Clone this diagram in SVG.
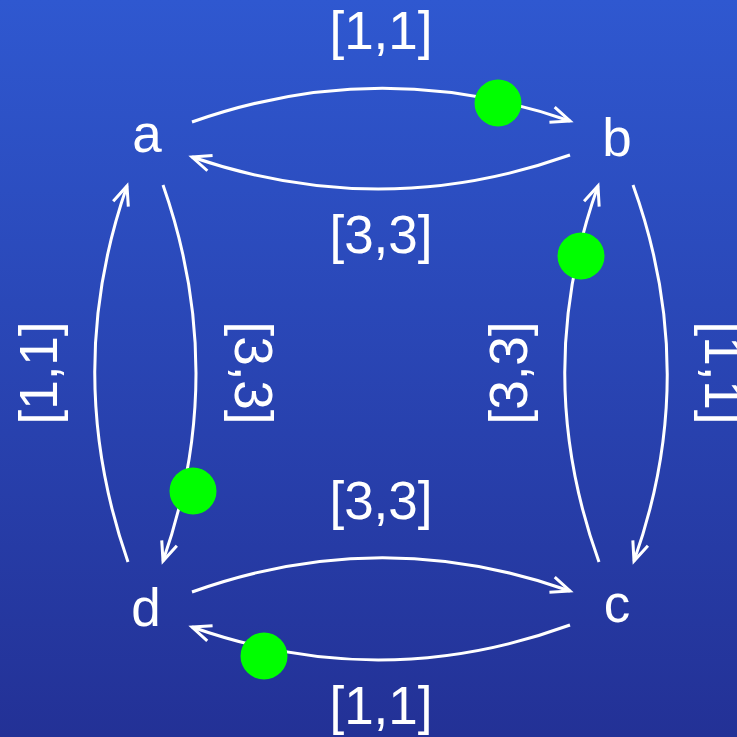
<svg xmlns="http://www.w3.org/2000/svg" width="737" height="737" viewBox="0 0 737 737">
<defs>
<linearGradient id="bg" x1="0" y1="0" x2="0" y2="1">
<stop offset="0" stop-color="#2F58D0"/>
<stop offset="1" stop-color="#233196"/>
</linearGradient>
<marker id="arr" markerUnits="userSpaceOnUse" viewBox="-22 -12 26 24" markerWidth="26" markerHeight="24" refX="0" refY="0" orient="auto" overflow="visible">
<path d="M-19,-8 L0,0 L-19,8" fill="none" stroke="#fff" stroke-width="3" stroke-linejoin="miter"/>
</marker>
<style>
.edge{fill:none;stroke:#fff;stroke-width:3;marker-end:url(#arr)}
.node{font-family:"Liberation Sans",Arial,sans-serif;font-size:53px;fill:#fff;text-anchor:middle}
.lbl{font-family:"Liberation Sans",Arial,sans-serif;font-size:53px;fill:#fff;text-anchor:middle}
.tok{fill:#00FF00}
</style>
</defs>
<rect width="737" height="737" fill="url(#bg)"/>
<g id="connectors">
<path class="edge" d="M192,122 Q381,55 570,121"/>
<path class="edge" d="M570,155 Q381,222 192,157"/>
<path class="edge" d="M128,562 Q62,373 127,186"/>
<path class="edge" d="M163,185 Q229,373 163,561"/>
<path class="edge" d="M633,185 Q701,373 634,561"/>
<path class="edge" d="M599,562 Q531,374 598,186"/>
<path class="edge" d="M192,592 Q381,524 570,591"/>
<path class="edge" d="M570,625 Q381,694 192,627"/>
</g>
<g id="labels">
<text class="lbl" x="381" y="48.6">[1,1]</text>
<text class="lbl" x="381" y="252.6">[3,3]</text>
<text class="lbl" x="381" y="518.6">[3,3]</text>
<text class="lbl" x="381" y="723.6">[1,1]</text>
<text class="lbl" transform="translate(56.6,373) rotate(-90)">[1,1]</text>
<text class="lbl" transform="translate(235.4,373) rotate(90)">[3,3]</text>
<text class="lbl" transform="translate(526.6,373) rotate(-90)">[3,3]</text>
<text class="lbl" transform="translate(705.4,373) rotate(90)">[1,1]</text>
</g>
<g id="tokens">
<circle class="tok" cx="498" cy="103" r="23.5"/>
<circle class="tok" cx="581" cy="256" r="23.5"/>
<circle class="tok" cx="193" cy="491" r="23.5"/>
<circle class="tok" cx="264" cy="656" r="23.5"/>
</g>
<g id="node-a"><text class="node" x="147" y="152">a</text></g>
<g id="node-b"><text class="node" x="617" y="156">b</text></g>
<g id="node-c"><text class="node" x="617" y="622">c</text></g>
<g id="node-d"><text class="node" x="146" y="626">d</text></g>
</svg>
